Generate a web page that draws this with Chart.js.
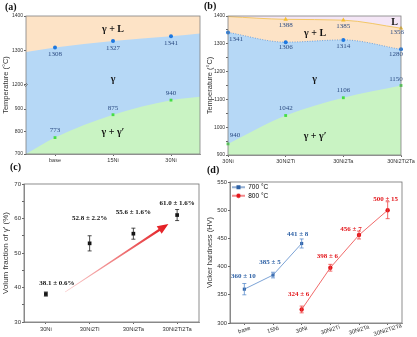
<!DOCTYPE html>
<html>
<head>
<meta charset="utf-8">
<script src="https://cdn.jsdelivr.net/npm/chart.js@4.4.1/dist/chart.umd.min.js"></script>
<style>
  html, body { margin: 0; padding: 0; background: #fff; }
  #fig { position: relative; width: 417px; height: 337px; overflow: hidden; }
  #fig canvas { position: absolute; }
  .tag { position: absolute; font: bold 10px "Liberation Serif", "Times New Roman", serif; color: #111; }
</style>
</head>
<body>
<div id="fig">
  <canvas id="pa" width="204" height="168" style="left:0px;top:0px"></canvas>
  <canvas id="pb" width="213" height="168" style="left:204px;top:0px"></canvas>
  <canvas id="pc" width="204" height="169" style="left:0px;top:168px"></canvas>
  <canvas id="pd" width="213" height="169" style="left:204px;top:168px"></canvas>
  <div class="tag" style="left:5px;top:1px">(a)</div>
  <div class="tag" style="left:204px;top:0px">(b)</div>
  <div class="tag" style="left:10px;top:161px">(c)</div>
  <div class="tag" style="left:207px;top:164px">(d)</div>
</div>
<script>
// (a) phase regions, base -> 30Ni  (edge points sit on the plot border)
const catsA = ['base', '15Ni', '30Ni'];
const edgeXA = [-0.5, 0, 1, 2, 2.5];
const solidusA = [1295, 1308, 1327, 1341, 1349];
const solvusA = [700, 773, 875, 940, 955];
const yTicksA = [700, 800, 900, 1200, 1300, 1400];

// (b) phase regions, 30Ni -> 30Ni2Ti2Ta
const catsB = ['30Ni', '30Ni2Ti', '30Ni2Ta', '30Ni2Ti2Ta'];
const liquidusB = [1398, 1388, 1385, 1356];
const solidusB = [1341, 1306, 1314, 1280];
const solvusB = [940, 1042, 1106, 1150];

// (c) gamma prime fraction
const catsC = ['30Ni', '30Ni2Ti', '30Ni2Ta', '30Ni2Ti2Ta'];
const fracC = [38.1, 52.8, 55.6, 61.0];
const fracErrC = [0.6, 2.2, 1.6, 1.6];
const trendC = [[0.44, 38.7], [2.8, 58.4]];

// (d) hardness
const catsD = ['base', '15Ni', '30Ni', '30Ni2Ti', '30Ni2Ta', '30Ni2Ti2Ta'];
const hv700 = [360, 385, 441, null, null, null];
const hv700Err = [10, 5, 8, null, null, null];
const hv800 = [null, null, 324, 398, 456, 500];
const hv800Err = [null, null, 6, 6, 7, 15];

Chart.defaults.font.family = '"Liberation Sans", Arial, sans-serif';
Chart.defaults.font.size = 5.5;
Chart.defaults.color = '#333';
Chart.defaults.animation = false;
Chart.defaults.responsive = false;
Chart.defaults.devicePixelRatio = 1;
Chart.defaults.plugins.legend.display = false;
Chart.defaults.plugins.tooltip.enabled = false;

const serif = '"Liberation Serif", "Times New Roman", serif';
const ORANGE = '#FDE3C6', BLUE = '#B6D8F6', GREEN = '#C9F3C3', LAV = '#F4E6F6';

// broken axis in (a): 700-1000 kept, 1200-1400 stretched on top
const brkA = v => (v <= 1000 ? v : 1009.6 + (v - 1200) * 1.526);

const deco = {
  id: 'deco',
  beforeDraw(chart, args, o) {
    // legend sits inside the plot, top-left
    if (o.legendInside && chart.legend) {
      const L = chart.legend, a = chart.chartArea;
      L.left = a.left; L.top = a.top;
      L.right = a.right; L.bottom = a.bottom;
    }
  },
  beforeDatasetsDraw(chart, args, o) {
    if (!o.bg) return;
    const a = chart.chartArea, ctx = chart.ctx;
    ctx.save();
    ctx.fillStyle = o.bg;
    ctx.fillRect(a.left, a.top, a.width, a.height);
    ctx.restore();
  },
  afterDatasetsDraw(chart, args, o) {
    const { ctx, chartArea: a, scales: { x, y } } = chart;
    ctx.save();
    (o.errors || []).forEach(s => {
      const meta = chart.getDatasetMeta(s.dataset);
      s.err.forEach((e, i) => {
        const raw = chart.data.datasets[s.dataset].data[i];
        if (e == null || raw == null) return;
        const v = typeof raw === 'object' ? raw.y : raw;
        const px = meta.data[i].x;
        const y1 = y.getPixelForValue(v - e), y2 = y.getPixelForValue(v + e);
        ctx.strokeStyle = s.color;
        ctx.lineWidth = 0.8;
        ctx.beginPath();
        ctx.moveTo(px, y1); ctx.lineTo(px, y2);
        ctx.moveTo(px - 2, y1); ctx.lineTo(px + 2, y1);
        ctx.moveTo(px - 2, y2); ctx.lineTo(px + 2, y2);
        ctx.stroke();
      });
    });
    if (o.arrow) {
      const x0 = x.getPixelForValue(o.arrow[0][0]), y0 = y.getPixelForValue(o.arrow[0][1]);
      const x1 = x.getPixelForValue(o.arrow[1][0]), y1 = y.getPixelForValue(o.arrow[1][1]);
      const len = Math.hypot(x1 - x0, y1 - y0);
      ctx.save();
      ctx.translate(x0, y0);
      ctx.rotate(Math.atan2(y1 - y0, x1 - x0));
      const g = ctx.createLinearGradient(0, 0, len, 0);
      g.addColorStop(0, 'rgba(240,130,130,0.45)');
      g.addColorStop(1, '#E3161B');
      ctx.fillStyle = g;
      const hl = 11, hw = 4.5;
      ctx.beginPath();
      ctx.moveTo(0, -0.3);
      ctx.lineTo(len - hl, -1.2);
      ctx.lineTo(len - hl, -hw);
      ctx.lineTo(len, 0);
      ctx.lineTo(len - hl, hw);
      ctx.lineTo(len - hl, 1.2);
      ctx.lineTo(0, 0.3);
      ctx.closePath();
      ctx.fill();
      ctx.restore();
    }
    (o.notes || []).forEach(t => {
      ctx.font = t.font;
      ctx.fillStyle = t.color;
      ctx.textAlign = 'center';
      ctx.textBaseline = 'middle';
      ctx.fillText(t.text, x.getPixelForValue(t.x) + (t.dx || 0), y.getPixelForValue(t.y) + (t.dy || 0));
    });
    if (o.xlabels) {
      const xl = o.xlabels;
      ctx.font = xl.font;
      ctx.fillStyle = '#333';
      ctx.textAlign = 'center';
      ctx.textBaseline = 'middle';
      xl.labels.forEach((lab, i) => {
        ctx.save();
        ctx.translate(x.getPixelForValue(i), a.bottom + xl.dy);
        ctx.rotate(-xl.angle * Math.PI / 180);
        ctx.fillText(lab, 0, 0);
        ctx.restore();
      });
    }
    ctx.strokeStyle = o.frame || '#808080';
    ctx.lineWidth = 0.8;
    ctx.strokeRect(a.left, a.top, a.width, a.height);
    if (o.brk != null) {
      const py = y.getPixelForValue(o.brk);
      ctx.strokeStyle = '#555';
      ctx.lineWidth = 0.6;
      ctx.beginPath();
      ctx.moveTo(a.left - 2, py + 1.5); ctx.lineTo(a.left + 1, py - 1.5);
      ctx.moveTo(a.left - 1, py + 2.5); ctx.lineTo(a.left + 2, py - 0.5);
      ctx.stroke();
    }
    ctx.restore();
  }
};

const tickGrid = { drawOnChartArea: false, tickLength: 2, color: '#666' };
const axisBorder = { color: '#808080', width: 0.8 };
const numLab = { font: '7px ' + serif, color: '#2c4c82' };
const regLab = { font: 'bold 10px ' + serif, color: '#111' };
const hideEdge = c => (c.dataIndex === 0 || c.dataIndex === edgeXA.length - 1 ? 0 : 2);

// ---------- (a)
new Chart(document.getElementById('pa'), {
  type: 'line',
  data: {
    datasets: [
      {
        data: edgeXA.map((x, i) => ({ x, y: brkA(solidusA[i]) })),
        borderWidth: 0, fill: 'end', backgroundColor: ORANGE,
        cubicInterpolationMode: 'monotone',
        pointRadius: hideEdge, pointBackgroundColor: '#1E78E0', pointBorderWidth: 0
      },
      {
        data: edgeXA.map((x, i) => ({ x, y: brkA(solvusA[i]) })),
        borderWidth: 0, fill: 'start', backgroundColor: GREEN,
        cubicInterpolationMode: 'monotone', pointStyle: 'rect',
        pointRadius: hideEdge, pointBackgroundColor: '#45DD45', pointBorderWidth: 0
      }
    ]
  },
  options: {
    layout: { padding: { top: 16, right: 4, left: 0, bottom: 0 } },
    scales: {
      x: {
        type: 'linear', min: -0.5, max: 2.5,
        afterBuildTicks: s => { s.ticks = catsA.map((c, i) => ({ value: i })); },
        ticks: { callback: (v, i) => catsA[i], padding: 1 },
        grid: tickGrid, border: axisBorder,
        afterFit: s => { s.height = 14; }
      },
      y: {
        min: 700, max: brkA(1400),
        afterBuildTicks: s => { s.ticks = yTicksA.map(v => ({ value: brkA(v) })); },
        ticks: { callback: (v, i) => yTicksA[i], padding: 1, font: { size: 5 } },
        title: { display: true, text: 'Temperature (°C)', font: { size: 7.5 }, padding: { top: 1, bottom: 1 } },
        grid: tickGrid, border: axisBorder,
        afterFit: s => { s.width = 26; }
      }
    },
    plugins: {
      deco: {
        bg: BLUE, brk: brkA(1200),
        notes: [
          ...catsA.map((c, i) => ({ text: String(solidusA[i + 1]), x: i, y: brkA(solidusA[i + 1]), dy: 7, ...numLab })),
          ...catsA.map((c, i) => ({ text: String(solvusA[i + 1]), x: i, y: brkA(solvusA[i + 1]), dy: -7, ...numLab })),
          { text: 'γ + L', x: 1, y: brkA(1362), ...regLab },
          { text: 'γ', x: 1, y: brkA(1216), ...regLab },
          { text: 'γ + γ′', x: 1, y: 794, ...regLab }
        ]
      }
    }
  },
  plugins: [deco]
});

// ---------- (b)
const offB = {
  liq: [null, [0, 6], [0, 5.5], [-4, 4]],
  sol: [[8, 7], [0, 5.5], [0, 6], [-5, 4.5]],
  gp: [[7, -9], [0, -7], [0, -8], [-5, -6]]
};
const notesFor = (vals, offs, skipFirst) => vals.map((v, i) => (skipFirst && i === 0) ? null :
  ({ text: String(v), x: i, y: v, dx: offs[i][0], dy: offs[i][1], ...numLab })).filter(Boolean);

new Chart(document.getElementById('pb'), {
  type: 'line',
  data: {
    labels: catsB,
    datasets: [
      {
        data: liquidusB, borderColor: '#F3C766', borderWidth: 1, fill: 'end', backgroundColor: LAV,
        cubicInterpolationMode: 'monotone', clip: 4, pointStyle: 'triangle',
        pointRadius: c => (c.dataIndex === 0 ? 0 : 2.6), pointBackgroundColor: '#F5BE2E', pointBorderWidth: 0
      },
      {
        data: solidusB, borderColor: '#4D93E3', borderWidth: 0.8, borderDash: [1, 1.5],
        fill: 'end', backgroundColor: ORANGE, cubicInterpolationMode: 'monotone', clip: 4,
        pointRadius: 2, pointBackgroundColor: '#1E78E0', pointBorderWidth: 0
      },
      {
        data: solvusB, borderWidth: 0, fill: 'start', backgroundColor: GREEN,
        cubicInterpolationMode: 'monotone', clip: 4, pointStyle: 'rect',
        pointRadius: 2, pointBackgroundColor: '#45DD45', pointBorderWidth: 0
      }
    ]
  },
  options: {
    layout: { padding: { top: 16, right: 16, left: 0, bottom: 0 } },
    scales: {
      x: {
        ticks: { padding: 1, maxRotation: 0, autoSkip: false },
        grid: tickGrid, border: axisBorder,
        afterFit: s => { s.height = 13; }
      },
      y: {
        min: 900, max: 1400,
        ticks: { stepSize: 50, callback: v => (v % 100 ? '' : v), padding: 1, font: { size: 5 } },
        title: { display: true, text: 'Temperature (°C)', font: { size: 7.5 }, padding: { top: 1, bottom: 0 } },
        grid: tickGrid, border: axisBorder,
        afterFit: s => { s.width = 24; }
      }
    },
    plugins: {
      deco: {
        bg: BLUE,
        notes: [
          ...notesFor(liquidusB, offB.liq, true),
          ...notesFor(solidusB, offB.sol),
          ...notesFor(solvusB, offB.gp),
          { text: 'γ + L', x: 1.51, y: 1338, ...regLab },
          { text: 'γ', x: 1.5, y: 1172, ...regLab },
          { text: 'γ + γ′', x: 1.51, y: 967, ...regLab },
          { text: 'L', x: 2.89, y: 1376, ...regLab }
        ]
      }
    }
  },
  plugins: [deco]
});

// ---------- (c)
const offC = [[11, -11], [0, -25], [0, -21], [0, -12]];
new Chart(document.getElementById('pc'), {
  type: 'scatter',
  data: {
    datasets: [{
      data: fracC.map((v, i) => ({ x: i, y: v })),
      pointStyle: 'rect', pointRadius: 2.6, pointBackgroundColor: '#111', pointBorderWidth: 0
    }]
  },
  options: {
    layout: { padding: { top: 16, right: 5, left: 0, bottom: 0 } },
    scales: {
      x: {
        type: 'linear', min: -0.5, max: 3.5,
        afterBuildTicks: s => { s.ticks = catsC.map((c, i) => ({ value: i })); },
        ticks: { callback: (v, i) => catsC[i], padding: 2, font: { size: 5.8 } },
        grid: tickGrid, border: axisBorder,
        afterFit: s => { s.height = 15; }
      },
      y: {
        min: 30, max: 70,
        ticks: { stepSize: 5, callback: v => (v % 10 ? '' : v), padding: 1, font: { size: 6 } },
        title: { display: true, text: 'Volum fraction of γ′ (%)', font: { size: 8 }, padding: { top: 1, bottom: 0 } },
        grid: tickGrid, border: axisBorder,
        afterFit: s => { s.width = 24; }
      }
    },
    plugins: {
      deco: {
        frame: '#707070',
        errors: [{ dataset: 0, err: fracErrC, color: '#222' }],
        arrow: trendC,
        notes: fracC.map((v, i) => ({
          text: `${v.toFixed(1)} ± ${fracErrC[i]}%`, x: i, y: v, dx: offC[i][0], dy: offC[i][1],
          font: 'bold 7px ' + serif, color: '#111'
        }))
      }
    }
  },
  plugins: [deco]
});

// ---------- (d)
const BLUE_D = '#2F62A6', RED_D = '#E3161B';
function legendIcon(color, style) {
  const c = document.createElement('canvas');
  c.width = 13; c.height = 6;
  const g = c.getContext('2d');
  g.strokeStyle = color; g.lineWidth = 1;
  g.beginPath(); g.moveTo(0, 3); g.lineTo(13, 3); g.stroke();
  g.fillStyle = color;
  if (style === 'rect') g.fillRect(4.5, 1, 4, 4);
  else { g.beginPath(); g.arc(6.5, 3, 2.2, 0, Math.PI * 2); g.fill(); }
  return c;
}
const icons = [legendIcon(BLUE_D, 'rect'), legendIcon(RED_D, 'circle')];
const off700 = [[-1, -13], [-3, -13], [-4, -9]];
const off800 = [null, null, [-3, -15], [-3, -12], [-8, -6], [-2, -11]];
const hvNotes = (vals, errs, offs, color) => vals.map((v, i) => v == null ? null : ({
  text: `${v} ± ${errs[i]}`, x: i, y: v, dx: offs[i][0], dy: offs[i][1],
  font: 'bold 7px ' + serif, color
})).filter(Boolean);

new Chart(document.getElementById('pd'), {
  type: 'line',
  data: {
    labels: catsD,
    datasets: [
      {
        label: '700 °C', data: hv700, borderColor: '#5A8CCB', borderWidth: 0.8,
        pointStyle: 'rect', pointRadius: 2.2, pointBackgroundColor: BLUE_D, pointBorderWidth: 0
      },
      {
        label: '800 °C', data: hv800, borderColor: '#EE4444', borderWidth: 0.8,
        pointStyle: 'circle', pointRadius: 2.2, pointBackgroundColor: RED_D, pointBorderWidth: 0
      }
    ]
  },
  options: {
    layout: { padding: { top: 14, right: 15, left: 0, bottom: 0 } },
    scales: {
      x: {
        offset: true,
        ticks: { display: false },
        grid: tickGrid, border: axisBorder,
        afterFit: s => { s.height = 14; }
      },
      y: {
        min: 300, max: 550,
        ticks: { stepSize: 50, padding: 1, font: { size: 5.8 } },
        title: { display: true, text: 'Vicker hardness (HV)', font: { size: 7.5 }, padding: { top: 1, bottom: 0 } },
        grid: tickGrid, border: axisBorder,
        afterFit: s => { s.width = 26; }
      }
    },
    plugins: {
      legend: {
        display: true, position: 'chartArea', align: 'start',
        labels: {
          usePointStyle: true, pointStyleWidth: 13, boxHeight: 6, padding: 2,
          font: { size: 6.5 }, color: '#222',
          generateLabels: chart => chart.data.datasets.map((ds, i) => ({
            text: ds.label, pointStyle: icons[i], fillStyle: ds.borderColor,
            strokeStyle: ds.borderColor, lineWidth: 0, hidden: false, datasetIndex: i
          }))
        }
      },
      deco: {
        frame: '#707070',
        legendInside: true,
        errors: [
          { dataset: 0, err: hv700Err, color: '#5A8CCB' },
          { dataset: 1, err: hv800Err, color: '#EE4444' }
        ],
        xlabels: { labels: catsD, angle: 18, dy: 7, font: '5.8px "Liberation Sans", Arial, sans-serif' },
        notes: [
          ...hvNotes(hv700, hv700Err, off700, BLUE_D),
          ...hvNotes(hv800, hv800Err, off800, RED_D)
        ]
      }
    }
  },
  plugins: [deco]
});
</script>
</body>
</html>
